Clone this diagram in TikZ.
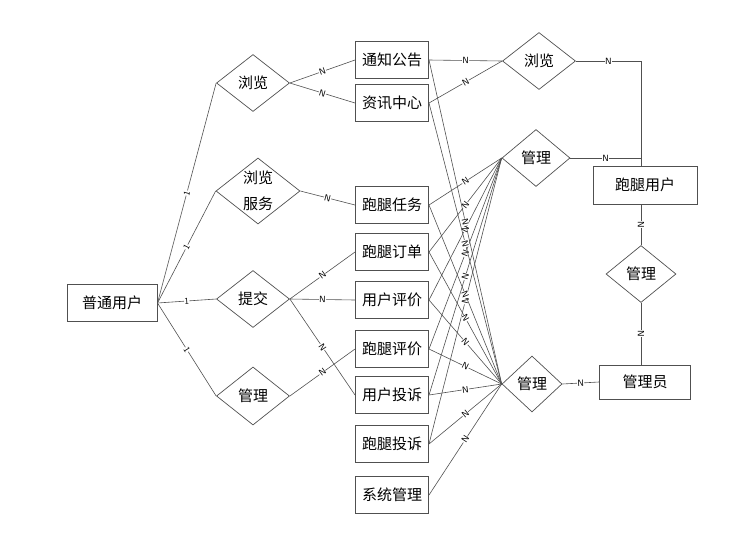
\documentclass[tikz,border=0pt]{standalone}
\usepackage{fontspec}
\newfontfamily\cjk{Noto Sans CJK SC}
\usepackage{xcolor}
\usetikzlibrary{shapes,positioning,calc}
\definecolor{linecolor}{RGB}{80,80,80}

\begin{document}
\begin{tikzpicture}[x=1pt,y=-1pt,every node/.style={font=\cjk\fontsize{15}{18}\selectfont},
  ent/.style={draw=linecolor,line width=1pt,minimum width=73pt,minimum height=37pt,inner sep=1pt},
  rel/.style={draw=linecolor,line width=0.7pt,diamond,aspect=1.3,inner sep=0pt,minimum width=73pt,minimum height=57pt,align=center},
  card/.style={sloped,fill=white,inner sep=0.3pt,font=\sffamily\fontsize{9}{9}\selectfont},
  conn/.style={draw=linecolor,line width=0.6pt}]
\useasboundingbox (0,0) rectangle (742,547);
% user side
\node[ent,minimum width=90pt](pu) at (112,303){普通用户};
\node[rel](ll1) at (253,83){浏览};
\node[rel,minimum width=84pt,minimum height=66pt,font=\cjk\fontsize{15}{26}\selectfont](llfw) at (258,191){浏览\\服务};
\node[rel](tj) at (253,299){提交};
\node[rel,minimum height=58pt](gl1) at (253,396){管理};
% entities
\node[ent](tzgg) at (392,60){通知公告};
\node[ent](zxzx) at (392,103){资讯中心};
\node[ent](rw) at (392,205){跑腿任务};
\node[ent](dd) at (392,252){跑腿订单};
\node[ent](yhpj) at (392,300){用户评价};
\node[ent](ptpj) at (392,349){跑腿评价};
\node[ent](yhts) at (392,395){用户投诉};
\node[ent](ptts) at (392,444){跑腿投诉};
\node[ent](xtgl) at (392,495){系统管理};
% runner and admin side
\node[rel](ll2) at (539,61){浏览};
\node[rel,minimum width=68pt](gl2) at (536,158){管理};
\node[rel,minimum width=60pt,minimum height=56pt](gl3) at (532,384){管理};
\node[rel,minimum width=70pt](gl4) at (641,274){管理};
\node[ent,minimum width=104pt,minimum height=38pt](ptyh) at (645,185){跑腿用户};
\node[ent,minimum width=91pt,minimum height=34pt](gly) at (645,382){管理员};
% user links
\draw[conn](pu.east)--node[card]{1}(ll1.west); \draw[conn](pu.east)--node[card]{1}(llfw.west);
\draw[conn](pu.east)--node[card]{1}(tj.west); \draw[conn](pu.east)--node[card]{1}(gl1.west);
\draw[conn](ll1.east)--node[card]{N}(tzgg.west); \draw[conn](ll1.east)--node[card]{N}(zxzx.west);
\draw[conn](llfw.east)--node[card]{N}(rw.west);
\draw[conn](tj.east)--node[card]{N}(dd.west); \draw[conn](tj.east)--node[card]{N}(yhpj.west);
\draw[conn](tj.east)--node[card]{N}(yhts.west); \draw[conn](gl1.east)--node[card]{N}(ptpj.west);
% runner links
\draw[conn](tzgg.east)--node[card]{N}(ll2.west); \draw[conn](zxzx.east)--node[card]{N}(ll2.west);
\draw[conn](rw.east)--node[card]{N}(gl2.west); \draw[conn](dd.east)--node[card]{N}(gl2.west);
\draw[conn](yhpj.east)--node[card]{N}(gl2.west); \draw[conn](ptpj.east)--node[card]{N}(gl2.west);
\draw[conn](yhts.east)--node[card]{N}(gl2.west); \draw[conn](ptts.east)--node[card]{N}(gl2.west);
% admin links
\draw[conn](tzgg.east)--node[card]{N}(gl3.west); \draw[conn](zxzx.east)--node[card]{N}(gl3.west);
\draw[conn](rw.east)--node[card]{N}(gl3.west); \draw[conn](dd.east)--node[card]{N}(gl3.west);
\draw[conn](yhpj.east)--node[card]{N}(gl3.west); \draw[conn](ptpj.east)--node[card]{N}(gl3.west);
\draw[conn](yhts.east)--node[card]{N}(gl3.west); \draw[conn](ptts.east)--node[card]{N}(gl3.west);
\draw[conn](xtgl.east)--node[card]{N}(gl3.west);
\draw[conn](ll2.east)-|node[card,pos=0.25]{N}(ptyh.north -| gl4);
\draw[conn](gl2.east)--node[card]{N}(gl2.east -| gl4);
\draw[conn](gl3.east)--node[card]{N}(gly.west);
\draw[conn](ptyh.south -| gl4)--node[card]{N}(gl4.north); \draw[conn](gl4.south)--node[card]{N}(gly.north -| gl4);
\end{tikzpicture}
\end{document}
